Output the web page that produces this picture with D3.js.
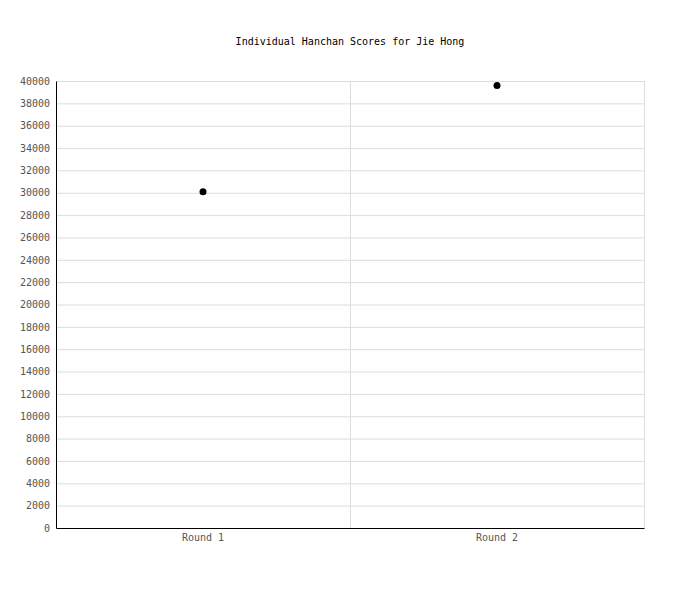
<!DOCTYPE html>
<html>
<head>
<meta charset="utf-8">
<script src="https://cdn.jsdelivr.net/npm/d3@7"></script>
<style>
  body { margin: 0; background: #fff; }
  text { font-family: "DejaVu Sans Mono", monospace; font-size: 10px; }
</style>
</head>
<body>
<script>
// Chart data
const rounds = ["Round 1", "Round 2"];
const scores = [30100, 39600];
const yTicks = d3.range(0, 40001, 2000);

const margin = { top: 81, right: 56, bottom: 72, left: 56 };
const width = 700 - margin.left - margin.right;
const height = 600 - margin.top - margin.bottom;

const svgRoot = d3.select("body")
    .append("svg")
    .attr("width", 700)
    .attr("height", 600);

// Title
svgRoot.append("text")
    .attr("x", 350)
    .attr("y", 45)
    .attr("text-anchor", "middle")
    .attr("fill", "#000")
    .text("Individual Hanchan Scores for Jie Hong");

const svg = svgRoot.append("g")
    .attr("transform", `translate(${margin.left},${margin.top})`);

const x = d3.scaleBand()
    .domain(rounds)
    .range([0, width]);

const y = d3.scaleLinear()
    .domain([0, 40000])
    .range([height, 0]);

// Horizontal grid lines
svg.append("g")
    .selectAll("line")
    .data(yTicks.slice(1))
    .enter()
    .append("line")
    .attr("x1", 0)
    .attr("x2", width)
    .attr("y1", d => y(d) + 0.5)
    .attr("y2", d => y(d) + 0.5)
    .attr("stroke", "#ddd");

// Vertical grid lines at band edges
svg.append("g")
    .selectAll("line")
    .data(rounds)
    .enter()
    .append("line")
    .attr("x1", d => x(d) + x.bandwidth() + 0.5)
    .attr("x2", d => x(d) + x.bandwidth() + 0.5)
    .attr("y1", 0)
    .attr("y2", height)
    .attr("stroke", "#ddd");

// Y axis
const yAxis = svg.append("g")
    .call(d3.axisLeft(y).tickValues(yTicks).tickFormat(d3.format("d")).tickSize(0).tickPadding(6));
yAxis.select(".domain").attr("stroke", "#000");
yAxis.selectAll("text").attr("fill", "#555").style("font-size", "10px");

// X axis
const xAxis = svg.append("g")
    .attr("transform", `translate(0,${height})`)
    .call(d3.axisBottom(x).tickSize(0).tickPadding(6));
xAxis.select(".domain").attr("stroke", "#000");
xAxis.selectAll("text").attr("fill", "#555").style("font-size", "10px");

// Points
svg.selectAll(".dot")
    .data(scores)
    .enter()
    .append("circle")
    .attr("class", "dot")
    .attr("cx", (d, i) => x(rounds[i]) + x.bandwidth() / 2)
    .attr("cy", d => y(d))
    .attr("r", 3.5)
    .attr("fill", "#000");
</script>
</body>
</html>
